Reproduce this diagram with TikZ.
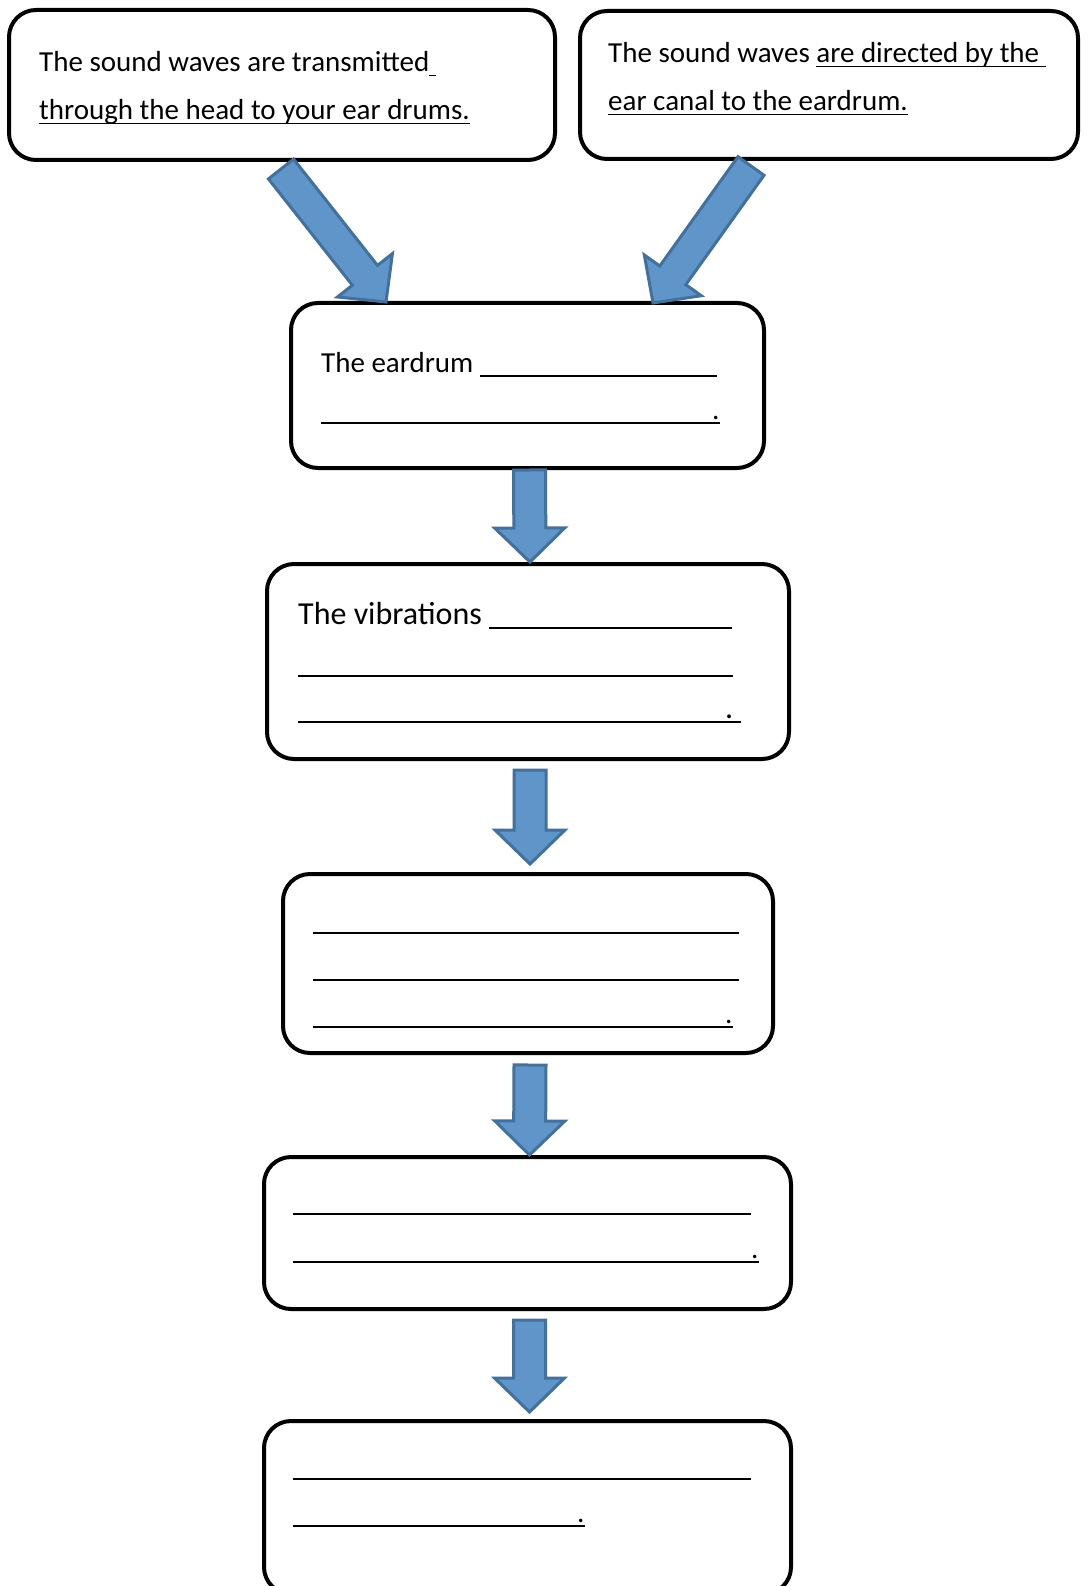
\documentclass[tikz,border=0pt]{standalone}
\usepackage{fontspec}
\setmainfont{Carlito}
\usetikzlibrary{calc}
\newlength\ulw
\newcommand\myul[1]{\settowidth\ulw{#1}\rlap{\rule[-4.5pt]{\ulw}{1.6pt}}#1}
\newcommand\blank[1]{\rule[-4.5pt]{#1}{1.6pt}}
\definecolor{arfill}{HTML}{5F95C9}
\definecolor{arline}{HTML}{44709C}
\tikzset{
  box/.style={draw=black, line width=4pt, rounded corners=27pt, inner sep=0pt, fill=white},
  txt/.style={anchor=base west, inner sep=0pt, font=\fontsize{29}{34}\selectfont},
  txtbig/.style={anchor=base west, inner sep=0pt, font=\fontsize{32}{38}\selectfont},
  blockar/.style={fill=arfill, draw=arline, line width=3pt, line join=miter},
}
\newcommand\blockarrow[2]{%
  \coordinate (bac) at ($(#2)!34pt!(#1)$);%
  \draw[blockar] ($(#1)!16pt!90:(#2)$) -- ($(bac)!16pt!90:(#2)$) -- ($(bac)!35pt!90:(#2)$) -- (#2)
    -- ($(bac)!35pt!-90:(#2)$) -- ($(bac)!16pt!-90:(#2)$) -- ($(#1)!16pt!-90:(#2)$) -- cycle;%
}
\begin{document}
\begin{tikzpicture}[x=1pt,y=-1pt]
\fill[white] (0,0) rectangle (1087,1586);
% boxes
\node[box, minimum width=546pt, minimum height=150pt] (b1) at (282,85) {};
\node[box, minimum width=498pt, minimum height=148pt] (b2) at (829,85) {};
\node[box, minimum width=473pt, minimum height=165pt] (b3) at (527.5,385.5) {};
\node[box, minimum width=522pt, minimum height=195pt] (b4) at (528,661.5) {};
\node[box, minimum width=490pt, minimum height=179pt] (b5) at (528,963.5) {};
\node[box, minimum width=527pt, minimum height=152pt] (b6) at (527.5,1233) {};
\node[box, minimum width=527pt, minimum height=173pt] (b7) at (527.5,1507.5) {};
% arrow end points
\coordinate (lt) at ($(b1.south west)+(274,7)$);
\coordinate (lh) at ($(b3.north west)+(97,1)$);
\coordinate (rt) at ($(b2.south west)+(173,5)$);
\coordinate (rh) at ($(b3.north west)+(364,2)$);
\coordinate (at) at ($(b3.south)+(2,0)$);
\coordinate (ah) at ($(b4.north)+(2,0)$);
\coordinate (bt) at ($(b4.south)+(2,9)$);
\coordinate (bh) at ($(b5.north)+(2,-8)$);
\coordinate (ct) at ($(b5.south)+(2,10)$);
\coordinate (ch) at ($(b6.north)+(2,0)$);
\coordinate (dt) at ($(b6.south)+(2,9)$);
\coordinate (dh) at ($(b7.north)+(2,-7)$);
\blockarrow{lt}{lh}
\blockarrow{rt}{rh}
\blockarrow{at}{ah}
\blockarrow{bt}{bh}
\blockarrow{ct}{ch}
\blockarrow{dt}{dh}
% texts
\node[txt] (t1a) at (39,72) {The sound waves are transmitted\myul{\ }};
\node[txt] (t1b) at (39,120) {\myul{through the head to your ear drums.}};
\node[txt] (t2a) at (608,63) {The sound waves \myul{are directed by the\ }};
\node[txt] (t2b) at (608,111) {\myul{ear canal to the eardrum.}};
\node[txt] (t3a) at (321,372) {The eardrum \blank{237pt}};
\node[txt] (t3b) at (321,419) {\blank{391pt}\myul{.}};
\node[txtbig] (t4a) at (298,624) {The vibrations \blank{243pt}};
\node[txtbig] (t4b) at (298,672) {\blank{435pt}};
\node[txtbig] (t4c) at (298,718) {\blank{427pt}\myul{.\ }};
\node[txt] (t5a) at (313,929) {\blank{426pt}};
\node[txt] (t5b) at (313,976) {\blank{426pt}};
\node[txt] (t5c) at (313,1023) {\blank{412pt}\myul{.}};
\node[txt] (t6a) at (293,1210) {\blank{458pt}};
\node[txt] (t6b) at (293,1258) {\blank{458pt}\myul{.}};
\node[txt] (t7a) at (293,1475) {\blank{458pt}};
\node[txt] (t7b) at (293,1522) {\blank{284pt}\myul{.}};
\pgfresetboundingbox
\useasboundingbox (0,0) rectangle (1087,1586);
\end{tikzpicture}
\end{document}
